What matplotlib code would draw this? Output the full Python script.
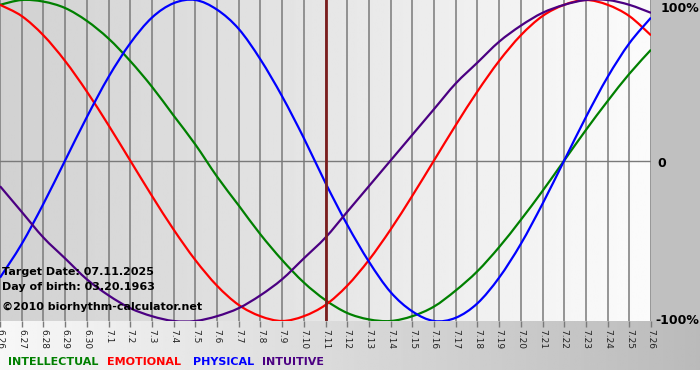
import numpy as np
import matplotlib
matplotlib.use("Agg")
import matplotlib.pyplot as plt
from matplotlib.path import Path
from matplotlib.patches import PathPatch

# -----------------------------
# DATA (one value per day, -1..1)
# -----------------------------
dates = ["6.26", "6.27", "6.28", "6.29", "6.30",
         "7.1", "7.2", "7.3", "7.4", "7.5", "7.6", "7.7", "7.8", "7.9", "7.10",
         "7.11", "7.12", "7.13", "7.14", "7.15", "7.16", "7.17", "7.18", "7.19",
         "7.20", "7.21", "7.22", "7.23", "7.24", "7.25", "7.26"]

physical = [-0.73, -0.52, -0.27, 0.00, 0.27, 0.52, 0.73, 0.89, 0.98, 1.00,
            0.94, 0.82, 0.63, 0.40, 0.14, -0.14, -0.40, -0.63, -0.82, -0.94,
            -1.00, -0.98, -0.89, -0.73, -0.52, -0.27, 0.00, 0.27, 0.52, 0.73, 0.89]

emotional = [0.97, 0.90, 0.78, 0.62, 0.43, 0.22, 0.00, -0.22, -0.43, -0.62,
             -0.78, -0.90, -0.97, -1.00, -0.97, -0.90, -0.78, -0.62, -0.43, -0.22,
             0.00, 0.22, 0.43, 0.62, 0.78, 0.90, 0.97, 1.00, 0.97, 0.90, 0.78]

intellectual = [0.97, 1.00, 0.99, 0.95, 0.87, 0.76, 0.62, 0.46, 0.28, 0.10,
                -0.10, -0.28, -0.46, -0.62, -0.76, -0.87, -0.95, -0.99, -1.00, -0.97,
                -0.91, -0.81, -0.69, -0.54, -0.37, -0.19, 0.00, 0.19, 0.37, 0.54, 0.69]

intuitive = [-0.16, -0.32, -0.48, -0.61, -0.74, -0.84, -0.92, -0.97, -1.00, -1.00,
             -0.97, -0.92, -0.84, -0.74, -0.61, -0.48, -0.32, -0.16, 0.00, 0.16,
             0.32, 0.48, 0.61, 0.74, 0.84, 0.92, 0.97, 1.00, 1.00, 0.97, 0.92]

target_idx = 15   # 7.11
target_date = "07.11.2025"
birth_date = "03.20.1963"

series = [
    ("INTELLECTUAL", intellectual, "#008000"),
    ("EMOTIONAL", emotional, "#ff0000"),
    ("PHYSICAL", physical, "#0000ff"),
    ("INTUITIVE", intuitive, "#4b0082"),
]

W, H = 700, 380
PLOT_R, PLOT_B = 651, 321


def smooth_path(xs, ys):
    # catmull-rom through the daily points, drawn as cubic bezier segments
    pts = np.column_stack([xs, ys]).astype(float)
    ext = np.vstack([pts[0], pts, pts[-1]])
    verts = [pts[0]]
    codes = [Path.MOVETO]
    for i in range(1, len(ext) - 2):
        p0, p1, p2, p3 = ext[i - 1], ext[i], ext[i + 1], ext[i + 2]
        verts += [p1 + (p2 - p0) / 6, p2 - (p3 - p1) / 6, p2]
        codes += [Path.CURVE4] * 3
    return Path(verts, codes)


fig = plt.figure(figsize=(W / 100, H / 100), dpi=100)
fig.patch.set_facecolor("white")

# -----------------------------
# background panels (pixel coords)
# -----------------------------
bg = fig.add_axes([0, 0, 1, 1])
bg.set_xlim(0, W)
bg.set_ylim(H, 0)
bg.axis("off")
bg.add_patch(plt.Rectangle((PLOT_R, 0), W - PLOT_R, PLOT_B, color="#c0c0c0", lw=0))
strip = np.linspace(0.97, 0.73, 256).reshape(1, -1)
bg.imshow(strip, cmap="gray", vmin=0, vmax=1, aspect="auto",
          extent=(0, W, 370, PLOT_B), zorder=1)

# -----------------------------
# main plot
# -----------------------------
n = len(dates)
x = np.arange(n)
ax = fig.add_axes([0, 1 - PLOT_B / H, PLOT_R / W, PLOT_B / H])
ax.set_facecolor("none")
ax.set_xlim(0, n - 1)
ax.set_ylim(-1, 1)

grad = np.linspace(0.82, 0.985, 256).reshape(1, -1)
ax.imshow(grad, cmap="gray", vmin=0, vmax=1, aspect="auto",
          extent=(0, n - 1, -1, 1), zorder=0)

for xi in x:
    ax.axvline(xi, color="#7a7a7a", lw=1.1, zorder=1)
ax.axhline(0, color="#7a7a7a", lw=1.0, zorder=1)

for name, vals, col in series:
    ax.add_patch(PathPatch(smooth_path(x, vals), facecolor="none", edgecolor=col,
                           lw=1.6, zorder=3, capstyle="butt"))

ax.axvline(target_idx, color="#7b1e1e", lw=2.0, zorder=4)

for s in ax.spines.values():
    s.set_visible(False)
ax.set_yticks([])
ax.set_xticks(x)
ax.set_xticklabels(dates, rotation=-90, fontsize=6.5, color="#222222")
ax.tick_params(axis="x", length=4, width=1, color="#7a7a7a", pad=2)

# right-side percentage labels
ax.text(n - 1 + 0.45, 0.99, "100%", fontsize=9, fontweight="bold", va="top", ha="left")
ax.text(n - 1 + 0.3, -0.02, "0", fontsize=9, fontweight="bold", va="center", ha="left")
ax.text(n - 1 + 0.2, -1.0, "-100%", fontsize=9, fontweight="bold", va="center", ha="left")

# info text lower left
ax.text(0.1, -0.695, f"Target Date: {target_date}", fontsize=8, fontweight="bold", va="center")
ax.text(0.1, -0.79, f"Day of birth: {birth_date}", fontsize=8, fontweight="bold", va="center")
ax.text(0.1, -0.915, "\u00a92010 biorhythm-calculator.net", fontsize=8, fontweight="bold", va="center")

# legend as coloured words
legend_x = [8, 107, 193, 262]
for (name, vals, col), lx in zip(series, legend_x):
    bg.text(lx, 362, name, color=col, fontsize=8, fontweight="bold", va="center", ha="left", zorder=5)

fig.savefig("out.png", dpi=100)
